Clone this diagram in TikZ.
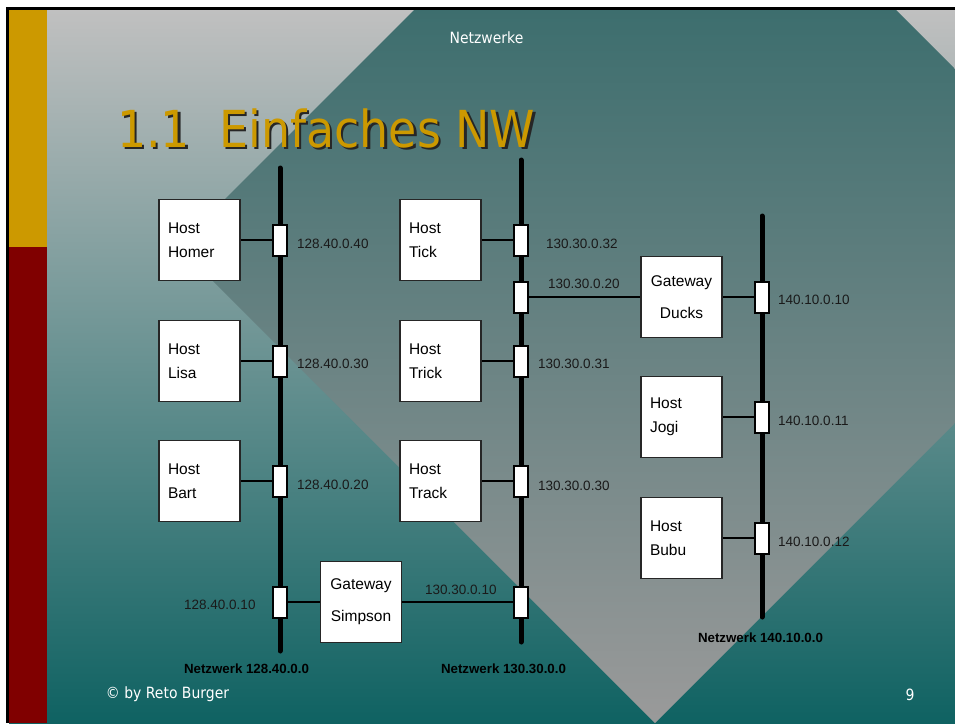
\documentclass[tikz,border=0pt]{standalone}
\usepackage{fontspec}
\setmainfont{Liberation Sans}
\newfontfamily\slidefont[FakeStretch=0.9]{DejaVu Sans}
\usetikzlibrary{calc}

\definecolor{slidegold}{HTML}{CC9900}
\definecolor{slidered}{HTML}{800000}
\definecolor{bgtop}{HTML}{C0C0C0}
\definecolor{bgmid}{HTML}{8FA0A0}
\definecolor{bgbot}{HTML}{0F6262}
\definecolor{dmtop}{HTML}{3D6E6E}
\definecolor{dmmid}{HTML}{7F8A8A}
\definecolor{dmbot}{HTML}{9A9A9A}
\definecolor{iptext}{HTML}{1A1A1A}

\newcommand{\shadowtext}[1]{\makebox[0pt][l]{\hspace{2.5pt}\raisebox{-2.5pt}{\color{black!85}#1}}#1}

\tikzset{
  host/.style={draw=black!85,line width=1.5pt,fill=white,minimum width=81pt,minimum height=81pt,
    text width=63pt,inner sep=0pt,align=left,font=\fontsize{15.5}{24}\selectfont},
  gateway/.style={host,align=center,font=\fontsize{15.5}{32}\selectfont},
  tap/.style={draw=black,line width=2pt,fill=white,minimum width=14pt,minimum height=31pt,inner sep=0pt},
  bus/.style={line width=5pt,line cap=round},
  link/.style={line width=2pt},
  ip/.style={text=iptext,font=\fontsize{13.5}{16}\selectfont,inner sep=0pt},
  netlabel/.style={font=\fontsize{13.3}{16}\selectfont\bfseries,inner sep=0pt},
  slidetext/.style={text=white,font=\slidefont\fontsize{15.5}{18}\selectfont,inner sep=0pt}
}

\begin{document}
\begin{tikzpicture}[x=1pt,y=-1pt]
\useasboundingbox (0,0) rectangle (955,723);

% === Slide background ===
\fill[white] (0,0) rectangle (955,723);
\shade[top color=bgtop,middle color=bgmid,bottom color=bgbot] (9,10) rectangle (955,723);
\begin{scope}
  \clip (9,10) rectangle (955,723);
  \clip (655,-231) -- (1132,246) -- (655,723) -- (178,246) -- cycle;
  \shade[top color=dmtop,middle color=dmmid,bottom color=dmbot] (9,10) rectangle (955,723);
\end{scope}
\fill[black] (6,7) rectangle (955,10);
\fill[black] (6,7) rectangle (9,723);
\fill[slidegold] (9,10) rectangle (47,247);
\fill[slidered] (9,247) rectangle (47,723);

% === Header, title and footer ===
\node[slidetext] (header) at (486.5,37.5) {Netzwerke};
\node[anchor=base west,inner sep=0pt,text=slidegold,font=\slidefont\fontsize{51}{60}\selectfont]
  (title) at (117,147) {\shadowtext{1.1~~Einfaches NW}};
\node[slidetext] (author) at (167.5,694) {\textcopyright{} by Reto Burger};
\node[slidetext] (pagenum) at (910,695) {9};

% === Bus lines ===
\coordinate (busAtop) at (280,168);
\coordinate (busAbot) at (280,651);
\coordinate (busBtop) at (521,160);
\coordinate (busBbot) at (521,642);
\coordinate (busCtop) at (762,216);
\coordinate (busCbot) at (762,617);
\draw[bus] (busAtop) -- (busAbot);
\draw[bus] (busBtop) -- (busBbot);
\draw[bus] (busCtop) -- (busCbot);

% === Transceivers ===
\node[tap] (tHomer) at (280,240) {};
\node[tap] (tLisa) at (280,361) {};
\node[tap] (tBart) at (280,481) {};
\node[tap] (tSimpA) at (280,602) {};
\node[tap] (tTick) at (521,240) {};
\node[tap] (tDucksB) at (521,297) {};
\node[tap] (tTrick) at (521,361) {};
\node[tap] (tTrack) at (521,481) {};
\node[tap] (tSimpB) at (521,602) {};
\node[tap] (tDucksC) at (762,297) {};
\node[tap] (tJogi) at (762,417) {};
\node[tap] (tBubu) at (762,538) {};

% === Hosts and gateways ===
\node[host] (homer) at (199.5,240) {Host\\Homer};
\node[host] (lisa) at (199.5,361) {Host\\Lisa};
\node[host] (bart) at (199.5,481) {Host\\Bart};
\node[host] (tick) at (440.5,240) {Host\\Tick};
\node[host] (trick) at (440.5,361) {Host\\Trick};
\node[host] (track) at (440.5,481) {Host\\Track};
\node[host] (jogi) at (681.5,417) {Host\\Jogi};
\node[host] (bubu) at (681.5,538) {Host\\Bubu};
\node[gateway] (simpson) at (361,602) {Gateway\\Simpson};
\node[gateway] (ducks) at (681.5,297) {Gateway\\Ducks};

% === Links ===
\draw[link] (homer.east) -- (tHomer.west);
\draw[link] (lisa.east) -- (tLisa.west);
\draw[link] (bart.east) -- (tBart.west);
\draw[link] (tick.east) -- (tTick.west);
\draw[link] (trick.east) -- (tTrick.west);
\draw[link] (track.east) -- (tTrack.west);
\draw[link] (jogi.east) -- (tJogi.west);
\draw[link] (bubu.east) -- (tBubu.west);
\draw[link] (tSimpA.east) -- (simpson.west);
\draw[link] (simpson.east) -- (tSimpB.west);
\draw[link] (tDucksB.east) -- (ducks.west);
\draw[link] (ducks.east) -- (tDucksC.west);

% === Addresses ===
\node[ip,anchor=west] (ipHomer) at (297,244) {128.40.0.40};
\node[ip,anchor=west] (ipLisa) at (297,364) {128.40.0.30};
\node[ip,anchor=west] (ipBart) at (297,485) {128.40.0.20};
\node[ip,anchor=west] (ipSimpA) at (184,605) {128.40.0.10};
\node[ip,anchor=west] (ipTick) at (546,244) {130.30.0.32};
\node[ip,anchor=west] (ipDucksB) at (548,284) {130.30.0.20};
\node[ip,anchor=west] (ipTrick) at (538,364) {130.30.0.31};
\node[ip,anchor=west] (ipTrack) at (538,486) {130.30.0.30};
\node[ip,anchor=west] (ipSimpB) at (425,590) {130.30.0.10};
\node[ip,anchor=west] (ipDucksC) at (778,300) {140.10.0.10};
\node[ip,anchor=west] (ipJogi) at (778,421) {140.10.0.11};
\node[ip,anchor=west] (ipBubu) at (778,542) {140.10.0.12};

% === Network names ===
\node[netlabel] (netA) at (246.5,669) {Netzwerk 128.40.0.0};
\node[netlabel] (netB) at (503.5,669) {Netzwerk 130.30.0.0};
\node[netlabel] (netC) at (760.5,638) {Netzwerk 140.10.0.0};

\end{tikzpicture}
\end{document}
